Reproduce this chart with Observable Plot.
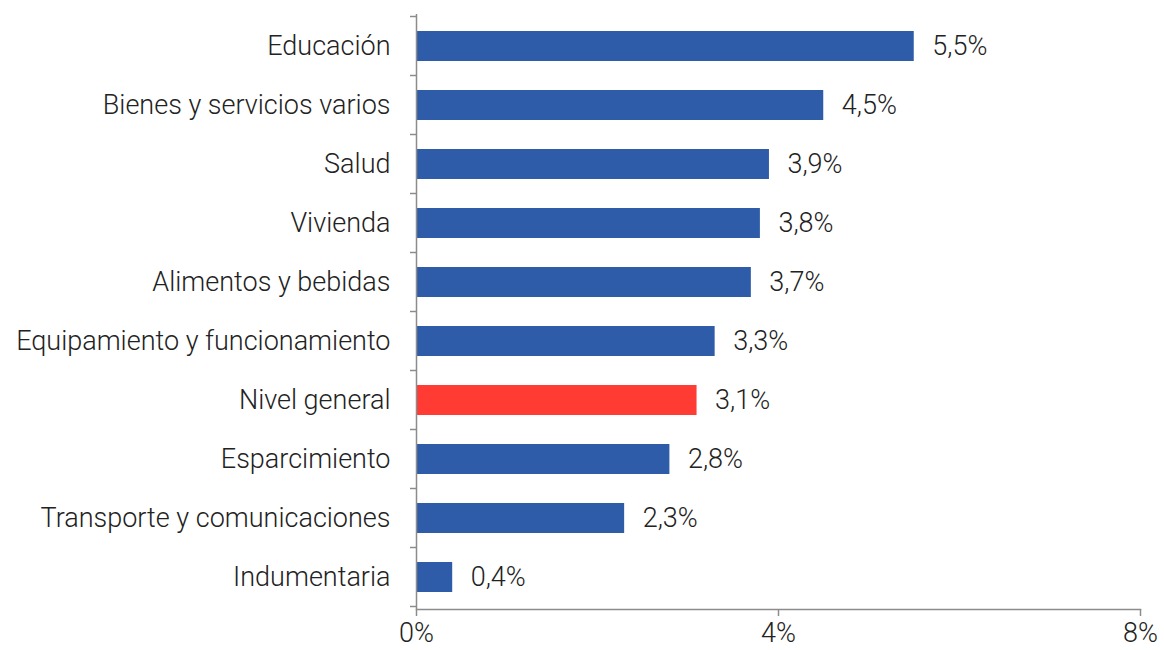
<!DOCTYPE html>
<html><head><meta charset="utf-8">
<script src="https://cdn.jsdelivr.net/npm/d3@7"></script>
<script src="https://cdn.jsdelivr.net/npm/@observablehq/plot@0.6"></script>
<style>body{margin:0;background:#fff}</style>
</head><body><div id="chart"></div>
<script>
const categories = ["Educación","Bienes y servicios varios","Salud","Vivienda","Alimentos y bebidas","Equipamiento y funcionamiento","Nivel general","Esparcimiento","Transporte y comunicaciones","Indumentaria"];
const values = [5.5,4.5,3.9,3.8,3.7,3.3,3.1,2.8,2.3,0.4];
const highlight = "Nivel general";
const xTicks = [0,4,8];

const data = categories.map((c,i)=>({cat:c, v:values[i]}));
const fmt = v => v.toFixed(1).replace(".", ",") + "%";
const gray = "#8c8c8c";

// tick marks at band boundaries, drawn via the y scale
function bandTicks(index, scales, values, dims) {
  const g = d3.create("svg:g").attr("stroke", gray).attr("stroke-width", 1.5);
  const y = scales.y, step = y.step();
  const x0 = scales.x(0);
  const off = (step - y.bandwidth())/2;
  const bounds = categories.map(c => y(c) - off);
  bounds.push(y(categories[categories.length-1]) + y.bandwidth() + off);
  for (const b of bounds) g.append("line").attr("x1", x0-6).attr("x2", x0).attr("y1", b).attr("y2", b);
  return g.node();
}

const chart = Plot.plot({
  width: 1164, height: 650,
  marginLeft: 416, marginRight: 24, marginTop: 14, marginBottom: 41,
  style: {fontFamily: "Roboto", fontWeight: 300, fontSize: "27px", color: "#222"},
  x: {domain: [0,8], ticks: xTicks, tickFormat: d => d + "%"},
  y: {domain: categories, paddingInner: 0.5, paddingOuter: 0.25},
  marks: [
    Plot.barX(data, {x: "v", y: "cat", fill: d => d.cat === highlight ? "#FF3B33" : "#2E5CA9"}),
    Plot.text(data, {x: "v", y: "cat", text: d => fmt(d.v), textAnchor: "start", dx: 18, fill: "#222", fontSize: 27}),
    Plot.frame({anchor: "bottom", stroke: gray, strokeWidth: 1.5}),
    Plot.ruleX([0], {stroke: gray, strokeWidth: 1.5}),
    bandTicks,
    Plot.axisY({tickSize: 0, tickPadding: 26, label: null, fontSize: 27}),
    Plot.axisX({ticks: xTicks, tickFormat: d => d + "%", tickSize: 7, tickPadding: 6, stroke: gray, strokeWidth: 1.5, label: null, fontSize: 27})
  ]
});
document.getElementById("chart").append(chart);
</script></body></html>
